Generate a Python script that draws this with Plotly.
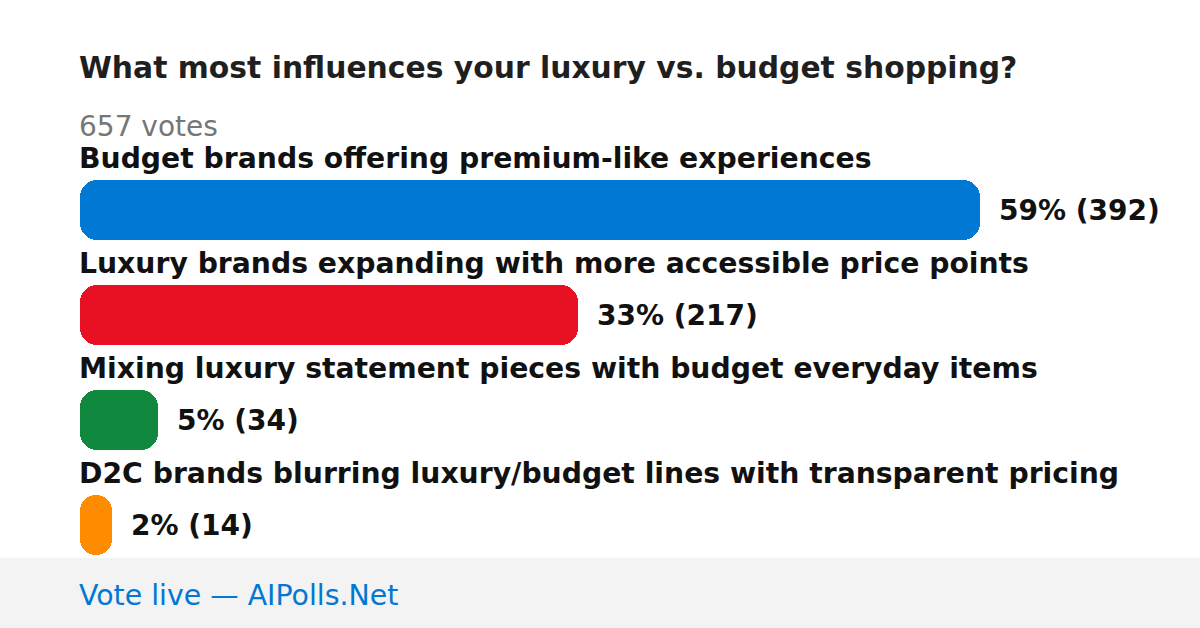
import plotly.graph_objects as go

title = "What most influences your luxury vs. budget shopping?"
total_votes = 657
categories = [
    "Budget brands offering premium-like experiences",
    "Luxury brands expanding with more accessible price points",
    "Mixing luxury statement pieces with budget everyday items",
    "D2C brands blurring luxury/budget lines with transparent pricing",
]
votes = [392, 217, 34, 14]
percents = [59, 33, 5, 2]
colors = ["#0078D4", "#E81123", "#10893E", "#FF8C00"]
footer = "Vote live — AIPolls.Net"

W, H = 1200, 628
left_px, bar_px = 80, 900
vmax = max(votes)
scale = vmax / bar_px  # data units per pixel
x_range = [-left_px * scale, (W - left_px) * scale]

first_center, step, bar_h = 210, 105, 60
ypos = [first_center + step * i for i in range(len(votes))]

FONT = "DejaVu Sans"
PAD = -3  # compensate annotation inner padding

fig = go.Figure()
fig.add_trace(go.Bar(
    x=votes, base=[0] * len(votes), y=ypos, orientation="h",
    width=bar_h, marker=dict(color=colors, cornerradius=17, line=dict(width=0)),
    hoverinfo="skip", showlegend=False,
))

ann = []
ann.append(dict(text=f"<b>{title}</b>", xref="paper", yref="paper",
                x=left_px / W, y=1 - 68 / H, xanchor="left", yanchor="middle", xshift=PAD,
                showarrow=False, font=dict(family=FONT, size=29.8, color="#1f1f1f")))
ann.append(dict(text=f"{total_votes} votes", xref="paper", yref="paper",
                x=left_px / W, y=1 - 126 / H, xanchor="left", yanchor="middle", xshift=PAD,
                showarrow=False, font=dict(family=FONT, size=28, color="#767676")))
for cat, v, p, y in zip(categories, votes, percents, ypos):
    ann.append(dict(text=f"<b>{cat}</b>", xref="x", yref="y", x=0, y=y - 52,
                    xanchor="left", yanchor="middle", showarrow=False, xshift=PAD,
                    font=dict(family=FONT, size=28.25, color="#111111")))
    ann.append(dict(text=f"<b>{p}% ({v})</b>", xref="x", yref="y", x=v, y=y,
                    xshift=20 + PAD, xanchor="left", yanchor="middle", showarrow=False,
                    font=dict(family=FONT, size=28, color="#111111")))
ann.append(dict(text=footer, xref="paper", yref="paper",
                x=left_px / W, y=1 - 595 / H, xanchor="left", yanchor="middle", xshift=PAD,
                showarrow=False, font=dict(family=FONT, size=28.4, color="#0078D4")))

fig.update_layout(
    width=W, height=H, margin=dict(l=0, r=0, t=0, b=0),
    paper_bgcolor="white", plot_bgcolor="white",
    xaxis=dict(range=x_range, visible=False, fixedrange=True),
    yaxis=dict(range=[H, 0], visible=False, fixedrange=True),
    annotations=ann,
    shapes=[dict(type="rect", xref="paper", yref="paper", x0=0, x1=1,
                 y0=0, y1=1 - 558 / H, fillcolor="#F3F3F3", line=dict(width=0),
                 layer="below")],
    barmode="overlay", bargap=0,
)

fig.write_html("out.html", config={"displayModeBar": False},
               post_script="document.body.style.margin='0';document.body.style.overflow='hidden';")
